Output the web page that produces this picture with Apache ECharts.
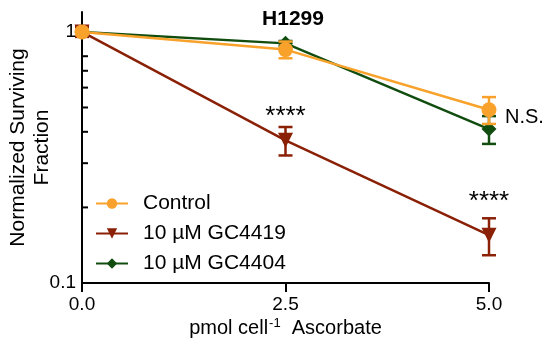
<!DOCTYPE html>
<html>
<head>
<meta charset="utf-8">
<script src="https://cdn.jsdelivr.net/npm/echarts@6/dist/echarts.min.js"></script>
<style>
  html, body { margin: 0; padding: 0; background: #fff; }
  #chart { width: 550px; height: 350px; }
</style>
</head>
<body>
<div id="chart"></div>
<script>
// values
const doses = [0, 2.5, 5.0]
const control = [1.0, 0.85, 0.49]
const controlSem = [0.02, 0.065, 0.06]
const gc4419 = [1.0, 0.37, 0.155]
const gc4419Sem = [0.045, 0.048, 0.026]
const gc4404 = [1.0, 0.90, 0.41]
const gc4404Sem = [0.02, 0.02, 0.052]
const yMinorTicks = [0.2, 0.3, 0.4, 0.5, 0.6, 0.7, 0.8]
// annotations: [x, y, text]
const notes = [[2.5, 0.46, '****'], [5.0, 0.21, '****']]
const nsNote = [[5.0, 0.455, 'N.S.']]

const FONT = 'Liberation Sans, Arial, sans-serif'
const colors = { control: '#F8A22C', gc4419: '#8A2006', gc4404: '#124D10' }

function pairs(ys) {
  return doses.map((d, i) => [d, ys[i]])
}

function errorSeries(name, ys, sem, color, z) {
  return {
    name: name + ' err',
    type: 'custom',
    z: z,
    data: doses.map((d, i) => [d, ys[i] - sem[i], ys[i] + sem[i]]),
    renderItem(params, api) {
      const lo = api.coord([api.value(0), api.value(1)])
      const hi = api.coord([api.value(0), api.value(2)])
      const w = 7
      const style = { stroke: color, lineWidth: 2.5 }
      return {
        type: 'group',
        children: [
          { type: 'line', shape: { x1: lo[0], y1: lo[1], x2: hi[0], y2: hi[1] }, style },
          { type: 'line', shape: { x1: lo[0] - w, y1: lo[1], x2: lo[0] + w, y2: lo[1] }, style },
          { type: 'line', shape: { x1: hi[0] - w, y1: hi[1], x2: hi[0] + w, y2: hi[1] }, style }
        ]
      }
    }
  }
}

function lineSeries(name, ys, color, symbol, rotate, z) {
  return {
    name: name,
    type: 'line',
    z: z,
    data: pairs(ys),
    symbol: symbol,
    symbolRotate: rotate,
    symbolSize: 15,
    itemStyle: { color: color },
    lineStyle: { color: color, width: 2.5 }
  }
}

function noteSeries(name, list, position, distance, size) {
  return {
    name: name,
    type: 'scatter',
    symbolSize: 0,
    itemStyle: { opacity: 1 },
    data: list.map(n => [n[0], n[1]]),
    label: {
      show: true,
      position: position,
      distance: distance,
      formatter: p => list[p.dataIndex][2],
      fontFamily: FONT,
      fontSize: size,
      color: '#000',
      opacity: 1
    }
  }
}

const chart = echarts.init(document.getElementById('chart'))
chart.setOption({
  animation: false,
  title: {
    text: 'H1299',
    left: 288,
    top: 4,
    textAlign: 'center',
    textStyle: { fontFamily: FONT, fontSize: 21, fontWeight: 'bold', color: '#000' }
  },
  grid: { left: 82, right: 61, top: 12, bottom: 67, outerBoundsMode: 'none', containLabel: false },
  legend: {
    orient: 'vertical',
    left: 95,
    top: 193,
    padding: 0,
    itemWidth: 32,
    itemHeight: 13,
    itemGap: 9,
    data: ['Control', '10 µM GC4419', '10 µM GC4404'],
    textStyle: { fontFamily: FONT, fontSize: 21, color: '#000', padding: [0, 0, 0, 10] }
  },
  xAxis: {
    type: 'value',
    min: 0,
    max: 5,
    interval: 2.5,
    splitLine: { show: false },
    axisLine: { lineStyle: { color: '#000', width: 2 } },
    axisTick: { length: 9, lineStyle: { color: '#000', width: 2 } },
    axisLabel: {
      margin: 12,
      fontFamily: FONT,
      fontSize: 19,
      color: '#000',
      formatter: v => v.toFixed(1)
    },
    name: '{a|pmol cell}{s|-1}{a|  Ascorbate}',
    nameLocation: 'middle',
    nameGap: 34,
    nameMoveOverlap: false,
    nameTextStyle: {
      rich: {
        a: { fontFamily: FONT, fontSize: 20, color: '#000' },
        s: { fontFamily: FONT, fontSize: 13, color: '#000', verticalAlign: 'top', padding: [0, 0, 10, 1] }
      }
    }
  },
  yAxis: {
    type: 'log',
    logBase: 10,
    min: 0.1,
    max: 1.2,
    splitLine: { show: false },
    axisLine: { lineStyle: { color: '#000', width: 2 } },
    axisTick: { show: false },
    axisLabel: {
      margin: 6,
      fontFamily: FONT,
      fontSize: 19,
      color: '#000',
      formatter: v => Math.abs(v - 1) < 1e-6 ? '1' : (Math.abs(v - 0.1) < 1e-6 ? '0.1' : '')
    },
    name: 'Normalized Surviving\nFraction',
    nameLocation: 'middle',
    nameGap: 28,
    nameMoveOverlap: false,
    nameTextStyle: { fontFamily: FONT, fontSize: 21, color: '#000', lineHeight: 24 }
  },
  series: [
    {
      name: 'minor ticks',
      type: 'custom',
      silent: true,
      data: yMinorTicks.map(v => [0, v]),
      renderItem(params, api) {
        const p = api.coord([api.value(0), api.value(1)])
        return {
          type: 'line',
          shape: { x1: p[0], y1: p[1], x2: p[0] + 6, y2: p[1] },
          style: { stroke: '#000', lineWidth: 2 }
        }
      }
    },
    errorSeries('10 µM GC4419', gc4419, gc4419Sem, colors.gc4419, 2),
    errorSeries('10 µM GC4404', gc4404, gc4404Sem, colors.gc4404, 3),
    errorSeries('Control', control, controlSem, colors.control, 4),
    lineSeries('10 µM GC4419', gc4419, colors.gc4419, 'triangle', 180, 2),
    lineSeries('10 µM GC4404', gc4404, colors.gc4404, 'diamond', 0, 3),
    lineSeries('Control', control, colors.control, 'circle', 0, 4),
    noteSeries('stars', notes, 'inside', 0, 26),
    noteSeries('ns', nsNote, 'right', 16, 20)
  ]
})
</script>
</body>
</html>
